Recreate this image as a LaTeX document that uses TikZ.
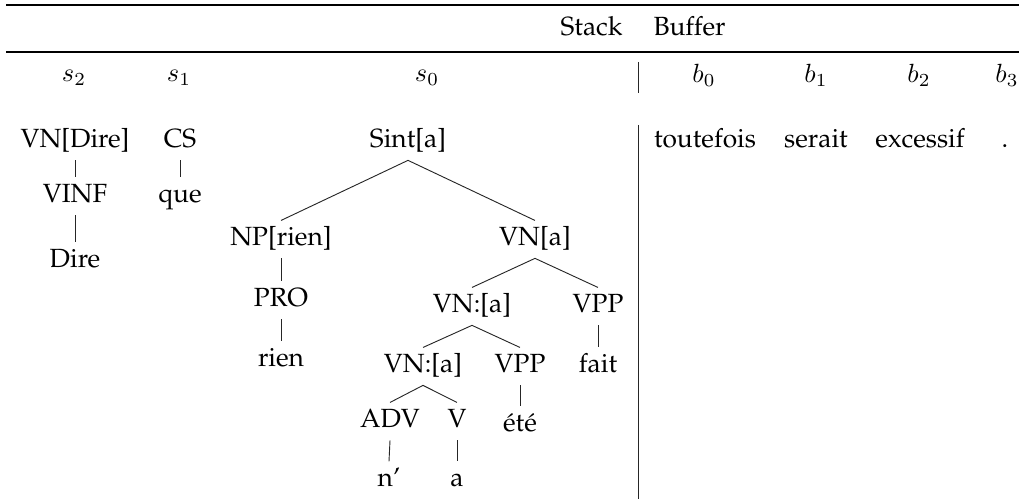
\documentclass[tikz,border=0pt]{standalone}
\usepackage[T1]{fontenc}
\usepackage{palatino}
\begin{document}
\begin{tikzpicture}[x=0.38pt,y=-0.38pt,
  lab/.style={anchor=base, inner sep=0pt, font=\fontsize{10}{12}\selectfont},
  tn/.style={anchor=base, font=\fontsize{10}{12}\selectfont, text height=7pt, text depth=2pt, inner xsep=0pt, inner ysep=2.5pt},
  edge/.style={line width=0.35pt, black!85},
  toprule/.style={line width=0.8pt},
  midrule/.style={line width=0.5pt},
  sep/.style={line width=0.35pt, black!85}]
\useasboundingbox (0,0) rectangle (1019,499);
% rules
\coordinate (t1) at (6,5); \coordinate (t2) at (1019,5);
\coordinate (m1) at (6,52); \coordinate (m2) at (1019,52);
\draw[toprule] (t1) -- (t2);
\draw[midrule] (m1) -- (m2);
% header
\node[lab, anchor=base east] (stack) at (623,36) {Stack};
\node[lab, anchor=base west] (buffer) at (653,36) {Buffer};
% column labels
\node[lab] (s2) at (74,82) {$s_2$};
\node[lab] (s1) at (179,82) {$s_1$};
\node[lab] (s0) at (427,82) {$s_0$};
\node[lab] (b0) at (704,83) {$b_0$};
\node[lab] (b1) at (816,83) {$b_1$};
\node[lab] (b2) at (919,83) {$b_2$};
\node[lab] (b3) at (1007,83) {$b_3$};
% separator
\coordinate (v1) at (638,62); \coordinate (v2) at (638,93);
\coordinate (v3) at (638,125); \coordinate (v4) at (638,499);
\draw[sep] (v1) -- (v2);
\draw[sep] (v3) -- (v4);
% s2 tree
\node[tn] (vndire) at (75,148) {VN[Dire]};
\node[tn] (vinf) at (75,203) {VINF};
\node[tn] (dire) at (75,268) {Dire};
\draw[edge] (vndire.south) -- (vinf.north);
\draw[edge] (vinf.south) -- (dire.north);
% s1 tree
\node[tn] (cs) at (180,148) {CS};
\node[tn] (que) at (180,203) {que};
\draw[edge] (cs.south) -- (que.north);
% s0 tree
\node[tn] (sint) at (408,148) {Sint[a]};
\node[tn] (np) at (281,246) {NP[rien]};
\node[tn] (vna) at (535,246) {VN[a]};
\node[tn] (pro) at (281,307) {PRO};
\node[tn] (rien) at (281,367) {rien};
\node[tn] (vnu) at (472,313) {VN:[a]};
\node[tn] (vppu) at (598,313) {VPP};
\node[tn] (fait) at (598,373) {fait};
\node[tn] (vnl) at (423,373) {VN:[a]};
\node[tn] (vppl) at (520,373) {VPP};
\node[tn] (ete) at (520,432) {été};
\node[tn] (adv) at (390,428) {ADV};
\node[tn] (v) at (457,428) {V};
\node[tn] (n) at (389,487) {n'};
\node[tn] (a) at (457,487) {a};
\draw[edge] (sint.south) -- (np.north);
\draw[edge] (sint.south) -- (vna.north);
\draw[edge] (np.south) -- (pro.north);
\draw[edge] (pro.south) -- (rien.north);
\draw[edge] (vna.south) -- (vnu.north);
\draw[edge] (vna.south) -- (vppu.north);
\draw[edge] (vppu.south) -- (fait.north);
\draw[edge] (vnu.south) -- (vnl.north);
\draw[edge] (vnu.south) -- (vppl.north);
\draw[edge] (vppl.south) -- (ete.north);
\draw[edge] (vnl.south) -- (adv.north);
\draw[edge] (vnl.south) -- (v.north);
\draw[edge] (adv.south) -- (n.north);
\draw[edge] (v.south) -- (a.north);
% buffer
\node[tn] (w0) at (705,148) {toutefois};
\node[tn] (w1) at (816,148) {serait};
\node[tn] (w2) at (920,148) {excessif};
\node[tn] (w3) at (1005,148) {.};
\end{tikzpicture}
\end{document}
